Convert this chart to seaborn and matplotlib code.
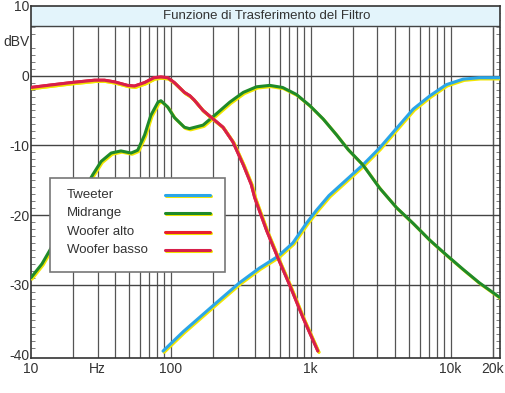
import numpy as np
import pandas as pd
import matplotlib
matplotlib.use("Agg")
import matplotlib.pyplot as plt
import matplotlib.patheffects as pe
from matplotlib.lines import Line2D
from matplotlib.patches import Rectangle
import seaborn as sns

# DATA
# ---------------------------------
woofer_freq = [10, 13.2, 19.4, 28.5, 33.6, 39.6, 49, 55, 65, 76, 85, 95, 106, 125,
               137, 147, 170, 200, 236, 278, 330, 376, 398, 484, 585, 710, 885, 1125]
woofer_db = [-1.7, -1.4, -1.0, -0.66, -0.66, -0.9, -1.4, -1.5, -1.0, -0.3, -0.2, -0.3,
             -1.0, -2.4, -2.9, -3.5, -5.0, -6.2, -7.4, -9.5, -12.8, -15.6, -17.5,
             -22.2, -26.2, -30.1, -34.8, -39.5]

mid_freq = [10, 12, 13.7, 18, 23, 27.7, 31.8, 37.5, 44, 52, 58, 65, 72, 81, 85, 95,
            106, 125, 136, 170, 211, 264, 330, 410, 510, 630, 790, 985, 1225, 1530,
            1850, 2360, 3100, 4090, 5400, 7100, 9300, 12300, 16000, 22400]
mid_db = [-29.0, -27.0, -25.0, -20.5, -17.0, -14.2, -12.3, -11.1, -10.8, -11.1, -10.7,
          -8.5, -5.7, -3.8, -3.6, -4.5, -6.0, -7.4, -7.6, -7.1, -5.5, -3.8, -2.4,
          -1.6, -1.4, -1.7, -2.7, -4.3, -6.2, -8.5, -10.6, -12.8, -16.1, -18.9,
          -21.2, -23.6, -25.7, -27.8, -29.7, -31.8]

tweet_freq = [88, 123, 200, 310, 430, 585, 745, 930, 1100, 1350, 2360, 3100, 4090,
              5400, 7100, 9300, 12300, 16000, 22400]
tweet_db = [-39.5, -36.7, -33.0, -29.7, -27.6, -25.9, -24.0, -21.2, -19.3, -17.2,
            -12.8, -10.4, -7.6, -4.8, -2.9, -1.3, -0.5, -0.3, -0.3]

series_names = ["Tweeter", "Midrange", "Woofer alto", "Woofer basso"]
series_colors = ["#2aa6e8", "#1f8a2a", "#e8202a", "#d81f4a"]

xtick_vals = [10, 30, 100, 1000, 10000, 20000]
xtick_labels = ["10", "Hz", "100", "1k", "10k", "20k"]
ytick_vals = [-40, -30, -20, -10, 0, 5, 10]
ytick_labels = ["-40", "-30", "-20", "-10", "0", "dBV", "10"]

# PLOT
# ----
sns.set_style("white")
plt.rcParams["font.family"] = ["Liberation Sans", "DejaVu Sans"]

fig = plt.figure(figsize=(5.06, 3.93), dpi=100)
ax = fig.add_axes([0.061, 0.089, 0.927, 0.896])

shadow = [pe.SimpleLineShadow(offset=(0.8, -0.9), shadow_color="#f2e600", alpha=1),
          pe.Normal()]

curves = [(tweet_freq, tweet_db), (mid_freq, mid_db),
          (woofer_freq, woofer_db), (woofer_freq, woofer_db)]
for (f, db), name, col in zip(curves, series_names, series_colors):
    df = pd.DataFrame({"f": f, "dB": db})
    sns.lineplot(data=df, x="f", y="dB", ax=ax, color=col, lw=2.2,
                 path_effects=shadow, zorder=3)

ax.set_xscale("log")
ax.set_xlim(10, 22500)
ax.set_ylim(-40.5, 10)

# grid
minor = [m * 10 ** d for d in range(1, 5) for m in range(2, 10)] + [100, 1000, 10000, 20000]
for v in minor:
    if 10 < v < 22500:
        ax.axvline(v, color="#555555", lw=0.9, zorder=1, ymax=(7.1 + 40.5) / 50.5)
for v in [0, -10, -20, -30]:
    ax.axhline(v, color="#444444", lw=1.0, zorder=1)

# title band
ax.axhspan(7.1, 10, color="#e3f4fb", zorder=2)
ax.axhline(7.1, color="#444444", lw=1.0, zorder=2)
ax.text(0.503, 8.55, "Funzione di Trasferimento del Filtro",
        transform=ax.get_yaxis_transform(), ha="center", va="center",
        fontsize=9.5, color="#333333", zorder=4)

ax.set_xticks(xtick_vals)
ax.set_xticklabels(xtick_labels)
ax.set_xticks([], minor=True)
ax.set_yticks(ytick_vals)
ax.set_yticklabels(ytick_labels)
ax.set_yticks(np.arange(-40, 10, 1), minor=True)
for lab in ax.get_yticklabels():
    if lab.get_text() == "dBV":
        lab.set_fontsize(7)
ax.tick_params(axis="both", labelsize=10, colors="#333333", length=0)
ax.tick_params(axis="x", pad=3)
ax.tick_params(axis="y", pad=1)
ax.tick_params(axis="y", which="minor", length=3, direction="in", left=True, right=True,
               color="#666666")
ax.set_xlabel("")
ax.set_ylabel("")
for s in ax.spines.values():
    s.set_color("#333333")
    s.set_linewidth(1.2)

# legend: text on the left, sample line on the right
ax.add_patch(Rectangle((0.0405, 0.244), 0.3735, 0.267, transform=ax.transAxes,
                       facecolor="white", edgecolor="#777777", lw=1.2, zorder=5))
row_y = [0.463, 0.412, 0.358, 0.307]
for yy, name, col in zip(row_y, series_names, series_colors):
    ax.text(0.077, yy, name, transform=ax.transAxes, ha="left", va="center",
            fontsize=9.5, color="#333333", zorder=6)
    ax.add_line(Line2D([0.286, 0.382], [yy, yy], transform=ax.transAxes, color=col,
                       lw=2.2, path_effects=shadow, zorder=6))

plt.savefig("out.png", dpi=100)
